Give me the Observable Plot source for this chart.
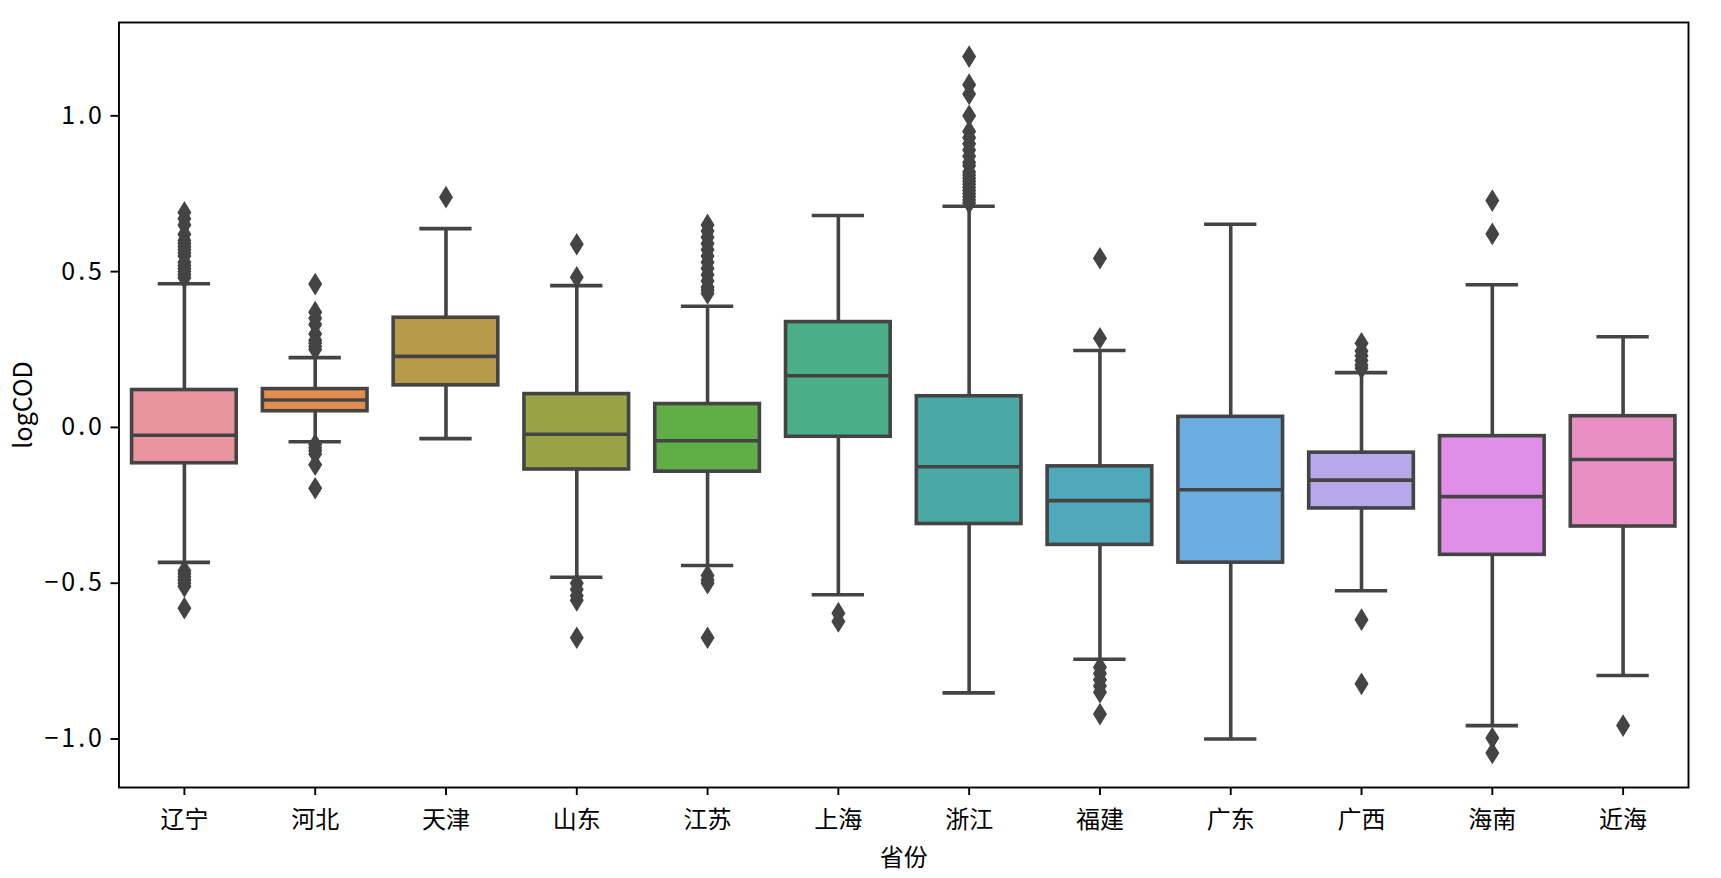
<!DOCTYPE html>
<html>
<head>
<meta charset="utf-8">
<script src="https://cdn.jsdelivr.net/npm/d3@7"></script>
<script src="https://cdn.jsdelivr.net/npm/@observablehq/plot@0.6"></script>
<style>
  html, body { margin: 0; padding: 0; background: #fff; }
  #chart svg { display: block; }
  g[aria-label="y-axis tick label"] text { letter-spacing: 3px; }
</style>
</head>
<body>
<div id="chart"></div>
<script>
// Box plot of logCOD by province (省份)
const provinces = ["辽宁", "河北", "天津", "山东", "江苏", "上海", "浙江", "福建", "广东", "广西", "海南", "近海"];
const q1       = [-0.115, 0.052, 0.135, -0.135, -0.142, -0.030, -0.310, -0.377, -0.434, -0.260, -0.409, -0.318];
const medians  = [-0.025, 0.088, 0.228, -0.022, -0.043, 0.166, -0.126, -0.235, -0.200, -0.169, -0.222, -0.103];
const q3       = [0.120, 0.123, 0.352, 0.107, 0.075, 0.338, 0.100, -0.125, 0.034, -0.081, -0.028, 0.036];
const whiskerLow  = [-0.433, -0.046, -0.036, -0.481, -0.443, -0.537, -0.852, -0.744, -1.000, -0.524, -0.957, -0.796];
const whiskerHigh = [0.461, 0.224, 0.638, 0.455, 0.389, 0.680, 0.710, 0.247, 0.652, 0.176, 0.458, 0.291];
const outliers = [
  [0.48, 0.49, 0.50, 0.51, 0.52, 0.53, 0.55, 0.56, 0.57, 0.58, 0.59, 0.60, 0.62, 0.65, 0.67, 0.69,
   -0.46, -0.47, -0.48, -0.49, -0.50, -0.51, -0.58],
  [0.25, 0.26, 0.27, 0.28, 0.30, 0.33, 0.35, 0.37, 0.46,
   -0.055, -0.065, -0.075, -0.085, -0.12, -0.195],
  [0.739],
  [0.482, 0.588, -0.50, -0.52, -0.54, -0.555, -0.675],
  [0.43, 0.44, 0.45, 0.47, 0.49, 0.51, 0.53, 0.55, 0.57, 0.59, 0.61, 0.63, 0.65,
   -0.475, -0.49, -0.50, -0.675],
  [-0.596, -0.623],
  [0.72, 0.73, 0.74, 0.75, 0.76, 0.77, 0.78, 0.79, 0.80, 0.81, 0.82, 0.84, 0.85, 0.87, 0.89, 0.91, 0.93, 0.95,
   1.00, 1.07, 1.10, 1.19],
  [0.286, 0.543, -0.77, -0.79, -0.81, -0.83, -0.85, -0.92],
  [],
  [0.19, 0.20, 0.215, 0.23, 0.245, 0.27, -0.617, -0.823],
  [0.621, 0.728, -0.997, -1.045],
  [-0.957]
];
const colors = ["#e8959f", "#e48e52", "#b89b48", "#9aa344", "#5fae46", "#4aaf89",
                "#4aa9a4", "#4fa9bb", "#6aade0", "#b7a7eb", "#df8fe8", "#e890c3"];
const yTicks = [-1.0, -0.5, 0.0, 0.5, 1.0];

// Tables for the marks
const boxes = provinces.map((p, i) => ({
  province: p, q1: q1[i], median: medians[i], q3: q3[i],
  lo: whiskerLow[i], hi: whiskerHigh[i], color: colors[i]
}));
const fliers = provinces.flatMap((p, i) => outliers[i].map(v => ({province: p, value: v})));

const W = 1721, H = 878;
const mL = 118.5, mR = 33, mT = 22, mB = 91;
const band = (W - mL - mR) / provinces.length;
const boxInset = band * 0.1;          // box occupies 80% of the band
const capInset = band * 0.3;          // caps are half the box width
const lineColor = "#444";
const lw = 3.6;

// thin diamond marker, taller than wide
const thinDiamond = {
  draw(context, size) {
    const r = Math.sqrt(size / Math.PI);
    const w = r * 0.62;
    context.moveTo(0, -r);
    context.lineTo(w, 0);
    context.lineTo(0, r);
    context.lineTo(-w, 0);
    context.closePath();
  }
};

const fmt = d => (d < 0 ? "\u2212" : "") + Math.abs(d).toFixed(1);

const chart = Plot.plot({
  width: W,
  height: H,
  marginLeft: mL,
  marginRight: mR,
  marginTop: mT,
  marginBottom: mB,
  style: {fontFamily: "'Noto Sans CJK SC', 'Noto Sans', sans-serif", fontSize: "24px", color: "#000", background: "#fff"},
  x: {domain: provinces, padding: 0, round: false},
  y: {domain: [-1.1556, 1.2995]},
  marks: [
    // whiskers
    Plot.ruleX(boxes, {x: "province", y1: "q3", y2: "hi", stroke: lineColor, strokeWidth: lw}),
    Plot.ruleX(boxes, {x: "province", y1: "q1", y2: "lo", stroke: lineColor, strokeWidth: lw}),
    Plot.tickY(boxes, {x: "province", y: "hi", stroke: lineColor, strokeWidth: lw, insetLeft: capInset, insetRight: capInset}),
    Plot.tickY(boxes, {x: "province", y: "lo", stroke: lineColor, strokeWidth: lw, insetLeft: capInset, insetRight: capInset}),
    // boxes
    Plot.barY(boxes, {x: "province", y1: "q1", y2: "q3", fill: d => d.color, stroke: lineColor, strokeWidth: lw,
                      insetLeft: boxInset, insetRight: boxInset}),
    // medians
    Plot.tickY(boxes, {x: "province", y: "median", stroke: lineColor, strokeWidth: lw, insetLeft: boxInset, insetRight: boxInset}),
    // outliers
    Plot.dot(fliers, {x: "province", y: "value", symbol: thinDiamond, r: 11.3, fill: lineColor, stroke: "none"}),
    // axes and frame
    Plot.axisY({
      ticks: yTicks, tickFormat: fmt, tickSize: 8, tickPadding: 6, strokeWidth: 1.9,
      fontSize: 25, label: "logCOD", labelAnchor: "center", labelArrow: "none", labelOffset: 105
    }),
    Plot.axisX({
      tickSize: 8, tickPadding: 15, strokeWidth: 1.9, fontSize: 24,
      label: "省份", labelAnchor: "center", labelArrow: "none", labelOffset: 78
    }),
    Plot.frame({stroke: "#000", strokeWidth: 1.9})
  ]
});

document.getElementById("chart").appendChild(chart);
</script>
</body>
</html>
